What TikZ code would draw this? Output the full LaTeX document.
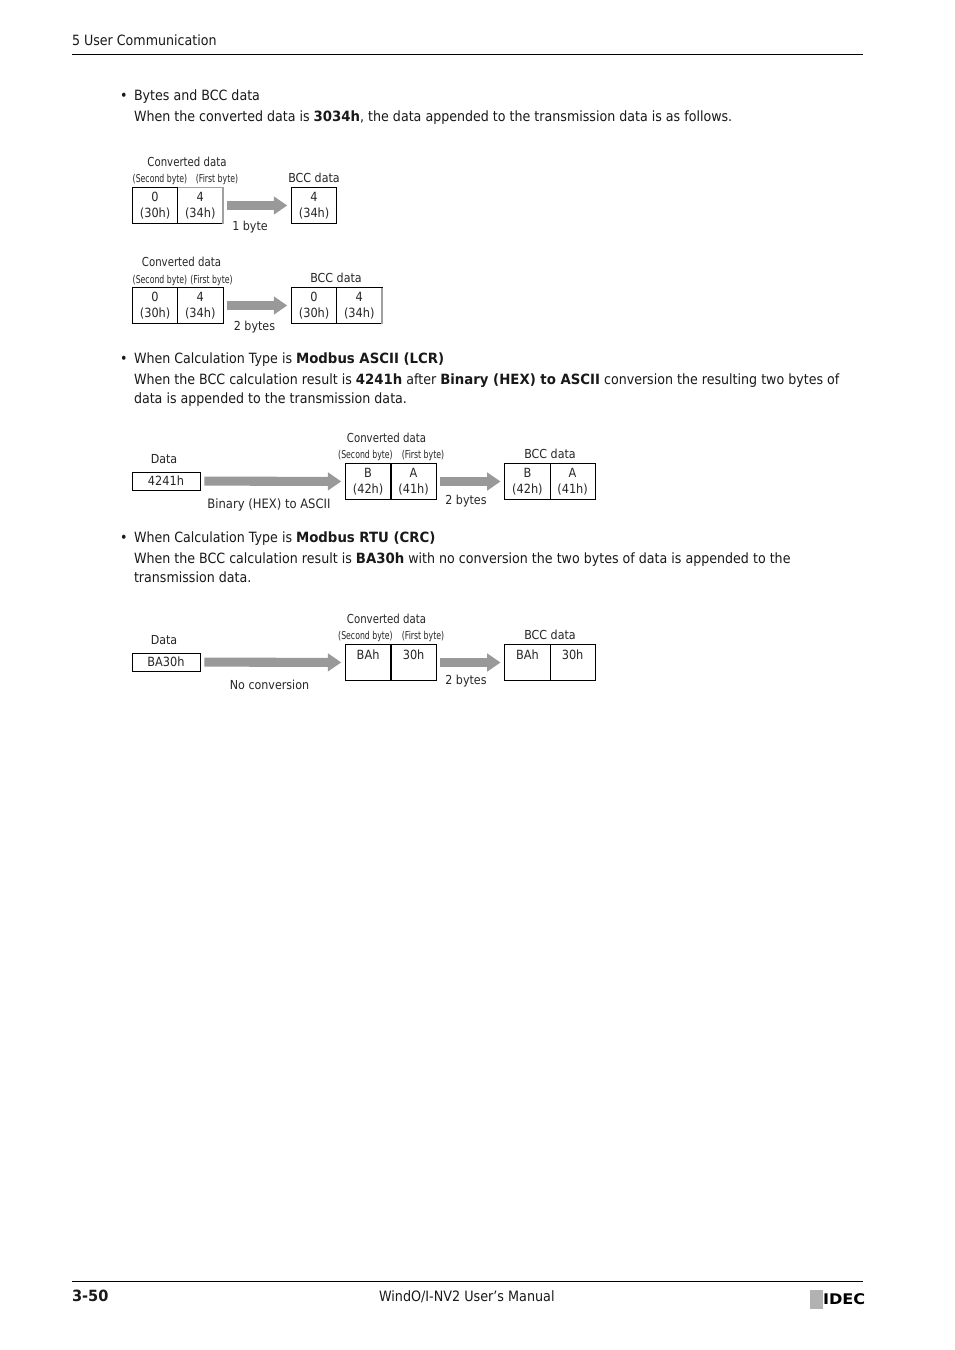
\documentclass[tikz,border=0pt]{standalone}
\usepackage{fontspec}
\setmainfont{DejaVu Sans}[FakeStretch=0.895,BoldFeatures={FakeStretch=0.94}]
\newfontfamily\narrowf{DejaVu Sans}[FakeStretch=0.72]
\newfontfamily\condf{DejaVu Sans}[FakeStretch=0.82]
\newfontfamily\logof{DejaVu Sans Bold}[FakeStretch=1.1]
\usetikzlibrary{arrows.meta}
\definecolor{arrowgray}{HTML}{999999}
\definecolor{edgegray}{HTML}{A0A0A0}
\tikzset{
  x=0.75pt,y=-0.75pt,
  body/.style={anchor=base west,inner sep=0pt,outer sep=0pt,font=\fontsize{10.6pt}{14pt}\selectfont,text=black!90},
  lab/.style={anchor=base,inner sep=0pt,outer sep=0pt,font=\fontsize{9.3pt}{12pt}\selectfont,text=black!85},
  condlab/.style={lab,font=\condf\fontsize{9.3pt}{12pt}\selectfont},
  widelab/.style={lab,font=\fontsize{9.7pt}{12pt}\selectfont},
  tiny/.style={anchor=base,inner sep=0pt,outer sep=0pt,font=\narrowf\fontsize{8.1pt}{10pt}\selectfont,text=black!85},
  cell/.style={draw=black,line width=0.6pt,minimum width=33.9pt,minimum height=27pt,inner sep=0pt,outer sep=0pt,align=center,anchor=west,
    font=\fontsize{9.5pt}{12.2pt}\selectfont,text=black!85},
  databox/.style={cell,minimum width=51pt,minimum height=13.5pt},
  bigarrow/.style={-{Triangle[length=10pt,width=13pt]},draw=arrowgray,line width=6.8pt,shorten <=3.2pt,shorten >=3.2pt},
  rule/.style={draw=black,line width=0.6pt},
  greyedge/.style={draw=edgegray,line width=1pt}
}
\begin{document}
\begin{tikzpicture}
\useasboundingbox (0,0) rectangle (954,1350);
\fill[white] (0,0) rectangle (954,1350);
% header
\node[body] (head) at (72,45) {5 User Communication};
\coordinate (hl) at (72,54); \coordinate (hr) at (863,54);
\draw[rule] (hl) -- (hr);
% text
\node[body] (b1) at (120,100) {•};
\node[body] (t1) at (134,100) {Bytes and BCC data};
\node[body] (t2) at (134,121) {When the converted data is \textbf{3034h}, the data appended to the transmission data is as follows.};
\node[body] (b2) at (120,363) {•};
\node[body] (t3) at (134,363) {When Calculation Type is \textbf{Modbus ASCII (LCR)}};
\node[body] (t4) at (134,384) {When the BCC calculation result is \textbf{4241h} after \textbf{Binary (HEX) to ASCII} conversion the resulting two bytes of};
\node[body] (t5) at (134,403) {data is appended to the transmission data.};
\node[body] (b3) at (120,542) {•};
\node[body] (t6) at (134,542) {When Calculation Type is \textbf{Modbus RTU (CRC)}};
\node[body] (t7) at (134,563) {When the BCC calculation result is \textbf{BA30h} with no conversion the two bytes of data is appended to the};
\node[body] (t8) at (134,582) {transmission data.};
% diagram 1
\node[condlab] (a1) at (187,166) {Converted data};
\node[tiny] (a2) at (160,182) {(Second byte)};
\node[tiny] (a3) at (217,182) {(First byte)};
\node[lab] (a4) at (314,182) {BCC data};
\node[cell] (c1) at (132.5,205.5) {0\\(30h)};
\node[cell] (c2) at (177.7,205.5) {4\\(34h)};
\node[cell] (c3) at (291.5,205.5) {4\\(34h)};
\draw[greyedge] (c2.north west) -- (c2.north east) -- (c2.south east);
\draw[bigarrow] (c2) -- (c3);
\node[lab] (a5) at (250,230) {1 byte};
% diagram 2
\node[condlab] (d1) at (181.5,266) {Converted data};
\node[tiny] (d2) at (160,283) {(Second byte)};
\node[tiny] (d3) at (211.5,283) {(First byte)};
\node[lab] (d4) at (336,282) {BCC data};
\node[cell] (e1) at (132.5,305.5) {0\\(30h)};
\node[cell] (e2) at (177.7,305.5) {4\\(34h)};
\node[cell] (e3) at (291.5,305.5) {0\\(30h)};
\node[cell] (e4) at (336.7,305.5) {4\\(34h)};
\draw[greyedge] (e4.north east) -- (e4.south east);
\draw[bigarrow] (e2) -- (e3);
\node[lab] (d5) at (254.5,330) {2 bytes};
% diagram 3
\node[lab] (f1) at (164,463) {Data};
\node[databox] (g0) at (132,481) {4241h};
\node[condlab] (f2) at (386.5,442) {Converted data};
\node[tiny] (f3) at (365.5,458) {(Second byte)};
\node[tiny] (f4) at (423,458) {(First byte)};
\node[lab] (f5) at (550,458) {BCC data};
\node[cell] (g1) at (345.5,481.5) {B\\(42h)};
\node[cell] (g2) at (391,481.5) {A\\(41h)};
\node[cell] (g3) at (504.8,481.5) {B\\(42h)};
\node[cell] (g4) at (550,481.5) {A\\(41h)};
\draw[bigarrow] (g0) -- (g1);
\draw[bigarrow] (g2) -- (g3);
\node[widelab] (f6) at (269,508) {Binary (HEX) to ASCII};
\node[lab] (f7) at (466,504) {2 bytes};
% diagram 4
\node[lab] (h1) at (164,644) {Data};
\node[databox] (i0) at (132,662) {BA30h};
\node[condlab] (h2) at (386.5,623) {Converted data};
\node[tiny] (h3) at (365.5,639) {(Second byte)};
\node[tiny] (h4) at (423,639) {(First byte)};
\node[lab] (h5) at (550,639) {BCC data};
\node[cell] (i1) at (345.5,662.5) {BAh\\~};
\node[cell] (i2) at (391,662.5) {30h\\~};
\node[cell] (i3) at (504.8,662.5) {BAh\\~};
\node[cell] (i4) at (550,662.5) {30h\\~};
\draw[bigarrow] (i0) -- (i1);
\draw[bigarrow] (i2) -- (i3);
\node[lab] (h6) at (269.5,689) {No conversion};
\node[lab] (h7) at (466,684) {2 bytes};
% footer
\coordinate (fl) at (72,1281); \coordinate (fr) at (863,1281);
\draw[rule] (fl) -- (fr);
\node[body,font=\fontsize{11.6pt}{14pt}\selectfont\bfseries] (pg) at (72,1301.5) {3-50};
\node[body,font=\fontsize{10.7pt}{14pt}\selectfont] (man) at (379,1301.5) {WindO/I-NV2 User’s Manual};
\fill[black!30] (810,1290) rectangle (823,1309);
\node[body,font=\logof\fontsize{11pt}{14pt}\selectfont,text=black] (logo) at (823,1304) {IDEC};
\end{tikzpicture}
\end{document}
